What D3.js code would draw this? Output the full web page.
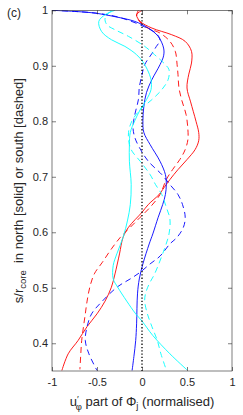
<!DOCTYPE html>
<html>
<head>
<meta charset="utf-8">
<script src="https://cdn.jsdelivr.net/npm/d3@7"></script>
<style>
  body { margin: 0; background: #fff; }
  svg text { font-family: 'Liberation Sans', Arial, sans-serif; fill: #262626; white-space: pre; }
</style>
</head>
<body>
<div id="visualization"></div>
<script>
// tick values
const uTicks = [-1, -0.5, 0, 0.5, 1];
const sTicks = [0.4, 0.5, 0.6, 0.7, 0.8, 0.9, 1];

// each curve: [s/r_core, u'_phi (normalised)]
const redNorth = [[1.000, 0.00], [0.992, -0.06], [0.980, -0.02], [0.968, 0.11], [0.956, 0.33],
  [0.944, 0.48], [0.926, 0.55], [0.905, 0.55], [0.885, 0.52], [0.860, 0.50], [0.835, 0.54],
  [0.800, 0.60], [0.780, 0.63], [0.765, 0.63], [0.749, 0.59], [0.731, 0.50], [0.713, 0.40],
  [0.695, 0.31], [0.677, 0.23], [0.668, 0.19], [0.650, 0.07], [0.636, 0.00], [0.609, -0.15],
  [0.591, -0.21], [0.561, -0.25], [0.525, -0.30], [0.501, -0.34], [0.476, -0.41], [0.453, -0.50],
  [0.430, -0.61], [0.405, -0.71], [0.381, -0.82], [0.351, -0.89]];

const redSouth = [[1.000, -0.04], [0.989, -0.06], [0.971, 0.03], [0.959, 0.20], [0.944, 0.31],
  [0.926, 0.37], [0.902, 0.39], [0.884, 0.40], [0.861, 0.41], [0.839, 0.44], [0.812, 0.49],
  [0.785, 0.51], [0.767, 0.51], [0.749, 0.48], [0.731, 0.42], [0.713, 0.34], [0.695, 0.27],
  [0.668, 0.20], [0.645, 0.09], [0.627, -0.02], [0.609, -0.13], [0.591, -0.24], [0.570, -0.34],
  [0.546, -0.44], [0.525, -0.53], [0.501, -0.58], [0.476, -0.61], [0.453, -0.63], [0.430, -0.65],
  [0.405, -0.67], [0.381, -0.68], [0.353, -0.69]];

const blueNorth = [[1.000, -1.00], [0.998, -0.75], [0.995, -0.52], [0.9885, -0.30], [0.980, -0.08],
  [0.968, 0.07], [0.953, 0.18], [0.932, 0.24], [0.918, 0.24], [0.902, 0.20], [0.875, 0.11],
  [0.852, 0.05], [0.826, 0.02], [0.801, 0.01], [0.780, 0.02], [0.758, 0.09], [0.728, 0.20],
  [0.704, 0.26], [0.686, 0.27], [0.668, 0.26], [0.650, 0.23], [0.627, 0.18], [0.597, 0.12],
  [0.579, 0.08], [0.543, 0.01], [0.516, -0.03], [0.489, -0.05], [0.435, -0.06], [0.405, -0.07],
  [0.376, -0.09], [0.351, -0.11]];

const blueSouth = [[1.000, -1.00], [0.998, -0.75], [0.995, -0.52], [0.990, -0.32], [0.982, -0.15],
  [0.970, 0.03], [0.958, 0.16], [0.946, 0.20], [0.935, 0.16], [0.922, 0.11], [0.902, 0.03],
  [0.884, 0.00], [0.861, -0.03], [0.839, -0.04], [0.812, -0.08], [0.789, -0.10], [0.771, -0.08],
  [0.753, -0.03], [0.728, 0.07], [0.704, 0.22], [0.686, 0.31], [0.668, 0.40], [0.650, 0.45],
  [0.627, 0.48], [0.609, 0.46], [0.591, 0.39], [0.579, 0.31], [0.557, 0.20], [0.543, 0.09],
  [0.528, -0.02], [0.516, -0.13], [0.502, -0.27], [0.476, -0.44], [0.453, -0.56], [0.430, -0.61],
  [0.405, -0.63], [0.381, -0.59], [0.351, -0.50]];

const cyanNorth = [[1.000, -0.30], [0.992, -0.41], [0.980, -0.48], [0.962, -0.45], [0.947, -0.34],
  [0.935, -0.19], [0.920, -0.06], [0.907, 0.01], [0.893, 0.06], [0.875, 0.10], [0.857, 0.10],
  [0.839, 0.05], [0.821, -0.02], [0.801, -0.08], [0.780, -0.13], [0.758, -0.14], [0.728, -0.14],
  [0.686, -0.12], [0.650, -0.13], [0.622, -0.16], [0.591, -0.21], [0.561, -0.28], [0.540, -0.32],
  [0.516, -0.32], [0.501, -0.27], [0.476, -0.17], [0.453, -0.07], [0.440, 0.00], [0.414, 0.12],
  [0.381, 0.31], [0.352, 0.50]];

const cyanSouth = [[1.000, -0.34], [0.986, -0.41], [0.974, -0.39], [0.965, -0.30], [0.953, -0.15],
  [0.935, 0.03], [0.920, 0.14], [0.902, 0.26], [0.893, 0.30], [0.875, 0.29], [0.857, 0.22],
  [0.839, 0.11], [0.821, -0.02], [0.801, -0.11], [0.780, -0.15], [0.758, -0.14], [0.746, -0.11],
  [0.728, -0.02], [0.704, 0.09], [0.686, 0.15], [0.668, 0.22], [0.645, 0.27], [0.624, 0.31],
  [0.597, 0.30], [0.566, 0.24], [0.525, 0.14], [0.507, 0.08], [0.490, 0.04], [0.476, 0.03],
  [0.453, 0.06], [0.430, 0.11], [0.405, 0.17], [0.381, 0.21], [0.352, 0.27]];

const series = [
  { data: redNorth, color: '#ff0000', dashed: false },
  { data: redSouth, color: '#ff0000', dashed: true },
  { data: blueNorth, color: '#0000ff', dashed: false },
  { data: blueSouth, color: '#0000ff', dashed: true },
  { data: cyanNorth, color: '#00ffff', dashed: false },
  { data: cyanSouth, color: '#00ffff', dashed: true },
];

const margin = { top: 10.3, right: 11, bottom: 44, left: 52 };
const width = 243 - margin.left - margin.right;
const height = 415 - margin.top - margin.bottom;

const svg = d3.select('#visualization')
  .append('svg')
  .attr('width', 243)
  .attr('height', 415);

const g = svg.append('g')
  .attr('transform', `translate(${margin.left},${margin.top})`);

const x = d3.scaleLinear().domain([-1, 1]).range([0, width]);
const y = d3.scaleLinear().domain([0.35, 1]).range([height, 0]);

g.append('clipPath').attr('id', 'plotClip')
  .append('rect').attr('width', width).attr('height', height);

const line = d3.line()
  .x((d) => x(d[1]))
  .y((d) => y(d[0]))
  .curve(d3.curveCatmullRom.alpha(0.5));

// the curves
g.append('g')
  .attr('clip-path', 'url(#plotClip)')
  .selectAll('path')
  .data(series)
  .enter()
  .append('path')
  .attr('d', (d) => line(d.data))
  .style('fill', 'none')
  .style('stroke', (d) => d.color)
  .style('stroke-width', 0.9)
  .style('stroke-dasharray', (d) => (d.dashed ? '6,4' : null));

// zero line, dotted
g.append('line')
  .attr('x1', x(0)).attr('x2', x(0))
  .attr('y1', y(1)).attr('y2', y(0.35))
  .style('stroke', '#000')
  .style('stroke-width', 1.3)
  .style('stroke-dasharray', '1.3,2');

// axes, ticks pointing inwards
const fmt = (d) => String(d);
const axisStyle = (sel) => {
  sel.select('.domain').remove();
  sel.selectAll('line').style('stroke', '#262626').style('stroke-width', 0.6);
  sel.selectAll('text').style('font-size', '11px').style('fill', '#262626')
    .style('font-family', "'Liberation Sans', Arial, sans-serif");
};

g.append('g')
  .attr('transform', `translate(0,${height})`)
  .call(d3.axisBottom(x).tickValues(uTicks).tickFormat(fmt).tickSizeInner(-4).tickSizeOuter(0).tickPadding(7))
  .call(axisStyle);

g.append('g')
  .call(d3.axisTop(x).tickValues(uTicks).tickFormat('').tickSizeInner(-4).tickSizeOuter(0))
  .call(axisStyle);

g.append('g')
  .call(d3.axisLeft(y).tickValues(sTicks).tickFormat(fmt).tickSizeInner(-4).tickSizeOuter(0).tickPadding(4))
  .call(axisStyle);

g.append('g')
  .attr('transform', `translate(${width},0)`)
  .call(d3.axisRight(y).tickValues(sTicks).tickFormat('').tickSizeInner(-4).tickSizeOuter(0))
  .call(axisStyle);

g.append('rect')
  .attr('width', width)
  .attr('height', height)
  .style('fill', 'none')
  .style('stroke', '#262626')
  .style('stroke-width', 0.6);

// panel letter
svg.append('text')
  .attr('x', 7)
  .attr('y', 17)
  .style('font-size', '12px')
  .text('(c)');

// x label: u'_phi part of Phi_j (normalised)
const xLabel = svg.append('text')
  .attr('x', margin.left + width / 2)
  .attr('y', 406)
  .attr('text-anchor', 'middle')
  .style('font-size', '13px');
xLabel.append('tspan').text('u');
xLabel.append('tspan').attr('dy', -4).style('font-size', '9.5px').text('′');
xLabel.append('tspan').attr('dx', -3).attr('dy', 7.5).style('font-size', '9.5px').text('φ');
xLabel.append('tspan').attr('dy', -3.5).text(' part of Φ');
xLabel.append('tspan').attr('dy', 3).style('font-size', '9.5px').text('j');
xLabel.append('tspan').attr('dy', -3).text(' (normalised)');

// y label: s/r_core in north [solid] or south [dashed]
const yLabel = svg.append('text')
  .attr('transform', `translate(23,${margin.top + height / 2}) rotate(-90)`)
  .attr('text-anchor', 'middle')
  .style('font-size', '13px');
yLabel.append('tspan').text('s/r');
yLabel.append('tspan').attr('dy', 3).style('font-size', '9.5px').text('core');
yLabel.append('tspan').attr('dy', -3).text('  in north [solid] or south [dashed]');
</script>
</body>
</html>
